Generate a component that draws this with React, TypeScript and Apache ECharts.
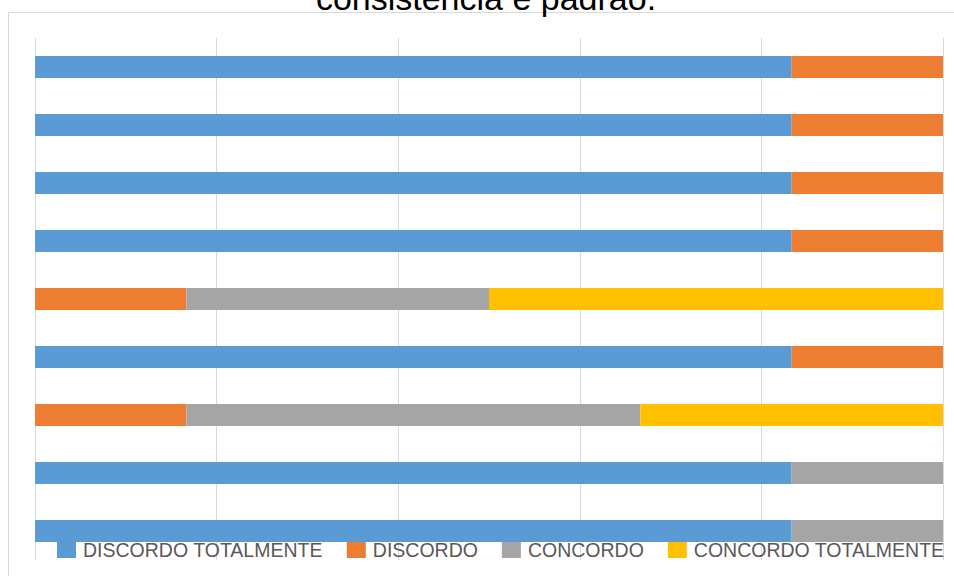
import React, { useEffect, useRef } from "react";
import * as echarts from "echarts";

const categories = ["1", "2", "3", "4", "5", "6", "7", "8", "9"];
const discordoTotalmente = [5, 5, 5, 5, 0, 5, 0, 5, 5];
const discordo = [1, 1, 1, 1, 1, 1, 1, 0, 0];
const concordo = [0, 0, 0, 0, 2, 0, 3, 1, 1];
const concordoTotalmente = [0, 0, 0, 0, 3, 0, 2, 0, 0];
const seriesNames = ["DISCORDO TOTALMENTE", "DISCORDO", "CONCORDO", "CONCORDO TOTALMENTE"];
const titleText = "consistência e padrão.";

export default function App() {
  const ref = useRef<HTMLDivElement>(null);
  useEffect(() => {
    if (!ref.current) return;
    const chart = echarts.init(ref.current, null, { renderer: "svg" });
    const colors = ["#5B9BD5", "#ED7D31", "#A5A5A5", "#FFC000"];
    const datas = [discordoTotalmente, discordo, concordo, concordoTotalmente];
    chart.setOption({
      animation: false,
      color: colors,
      graphic: [
        {
          type: "rect",
          shape: { x: 8.5, y: 12.5, width: 960, height: 600 },
          style: { fill: "none", stroke: "#d9d9d9", lineWidth: 1 },
          silent: true,
          z: -10,
        },
        {
          type: "text",
          x: 486,
          y: 15,
          style: {
            text: titleText,
            fill: "#000000",
            font: "34px 'Liberation Sans', Arial, sans-serif",
            align: "center",
            verticalAlign: "bottom",
          },
        },
      ],
      grid: { left: 35, right: 11, top: 38, bottom: 16, containLabel: false },
      legend: {
        left: 57,
        top: 540,
        padding: 0,
        itemWidth: 19,
        itemHeight: 16,
        itemGap: 24,
        icon: "rect",
        textStyle: {
          color: "#595959",
          fontSize: 19.5,
          lineHeight: 16,
          fontFamily: "'Liberation Sans', Arial, sans-serif",
          padding: [0, 0, 0, 2],
        },
        data: seriesNames,
      },
      xAxis: {
        type: "value",
        min: 0,
        max: 6,
        interval: 1.2,
        axisLabel: { show: false },
        axisLine: { show: false },
        axisTick: { show: false },
        splitLine: { show: true, lineStyle: { color: "#d9d9d9", width: 1 } },
      },
      yAxis: {
        type: "category",
        data: categories,
        inverse: true,
        axisLabel: { show: false },
        axisLine: { show: false },
        axisTick: { show: false },
      },
      series: seriesNames.map((name, i) => ({
        name,
        type: "bar",
        stack: "total",
        data: datas[i],
        barWidth: 22,
        itemStyle: { color: colors[i] },
      })),
    });
    return () => chart.dispose();
  }, []);
  return <div ref={ref} style={{ width: 954, height: 576, position: "absolute", left: 0, top: 0 }} />;
}
